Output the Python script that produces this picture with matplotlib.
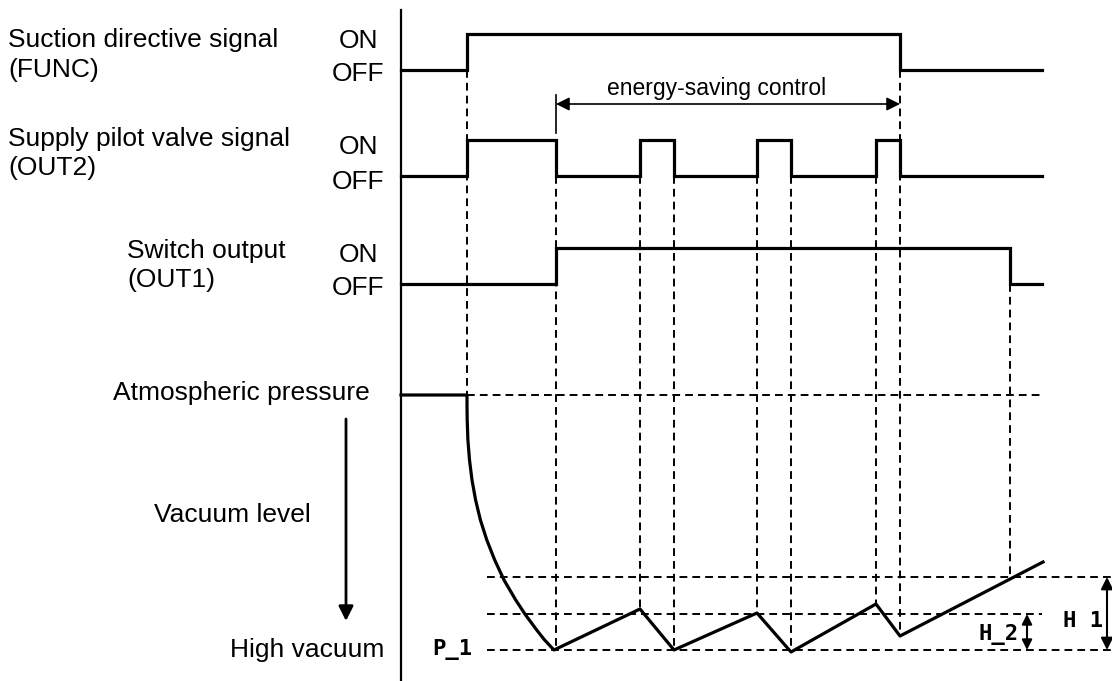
import numpy as np
import matplotlib.pyplot as plt

plt.rcParams['font.family'] = ['Liberation Sans', 'DejaVu Sans']

# time axis (arbitrary units, left edge of the diagram to right edge)
t_start, t_end = 401, 1042

# switching instants of each signal
func_edges = [467, 900]
out2_edges = [467, 556, 640, 674, 757, 791, 876, 900]
out1_edges = [556, 1010]

# vacuum trace (time, level) - level drawn downward
pressure_t = [401, 467, 467, 467.2, 467.9, 469.5, 472, 475.6, 480.4, 486.8,
              494.7, 504, 515.7, 525.6, 536.7, 544.6, 554,
              640, 674, 757, 791, 876, 900, 1043]
pressure_v = [395, 395, 405, 420, 440, 460, 480, 500, 520, 540,
              560, 580, 600, 615, 630, 640, 650,
              609, 650, 613, 652, 604, 636, 562]

atm_level = 395
p1_level = 650
h2_level = 614
h1_level = 577

# vertical guide lines: time, level where they start
guides = [(467, 70), (900, 70), (556, 176), (640, 176), (674, 176),
          (757, 176), (791, 176), (876, 176), (1010, 284)]


def step_wave(edges, off, on):
    xs, ys = [t_start], [off]
    state = off
    for e in edges:
        xs += [e, e]
        ys += [state, on if state == off else off]
        state = ys[-1]
    xs.append(t_end)
    ys.append(state)
    return xs, ys


fig = plt.figure(figsize=(11.12, 6.81), dpi=100)
ax = fig.add_axes([0, 0, 1, 1])
ax.set_xlim(0, 1112)
ax.set_ylim(681, 0)
ax.axis('off')

dash = (0, (4, 2.6))
lw_sig = 2.3
lw_dash = 1.4

# vertical axis line
ax.plot([401, 401], [10, 681], color='black', lw=1.6)

# digital signals
for edges, off, on in [(func_edges, 70, 34), (out2_edges, 176, 140), (out1_edges, 284, 248)]:
    xs, ys = step_wave(edges, off, on)
    ax.plot(xs, ys, color='black', lw=lw_sig, solid_joinstyle='miter')

# guide lines
for t, top in guides:
    bottom = np.interp(t, pressure_t[2:], pressure_v[2:])
    ax.plot([t, t], [top, bottom], color='black', lw=lw_dash, linestyle=dash)

# horizontal reference lines
ax.plot([467, 1042], [atm_level] * 2, color='black', lw=lw_dash, linestyle=dash)
ax.plot([487, 1112], [h1_level] * 2, color='black', lw=lw_dash, linestyle=dash)
ax.plot([487, 1042], [h2_level] * 2, color='black', lw=lw_dash, linestyle=dash)
ax.plot([487, 1112], [p1_level] * 2, color='black', lw=lw_dash, linestyle=dash)

# vacuum trace
ax.plot(pressure_t, pressure_v, color='black', lw=lw_sig, solid_joinstyle='round')

# energy-saving control span
ax.plot([556, 556], [95, 133], color='black', lw=1.2)
ax.annotate('', xy=(556, 104), xytext=(900, 104),
            arrowprops=dict(arrowstyle='<|-|>', color='black', lw=1.2,
                            mutation_scale=20, shrinkA=0, shrinkB=0))
ax.text(717, 95, 'energy-saving control', fontsize=16.5, ha='center', va='baseline')

# H1 / H2 arrows
ax.annotate('', xy=(1107, h1_level), xytext=(1107, p1_level),
            arrowprops=dict(arrowstyle='<|-|>', color='black', lw=1.5,
                            mutation_scale=18, shrinkA=0, shrinkB=0))
ax.annotate('', xy=(1027, h2_level), xytext=(1027, p1_level),
            arrowprops=dict(arrowstyle='<|-|>', color='black', lw=1.5,
                            mutation_scale=15, shrinkA=0, shrinkB=0))

# vacuum direction arrow
ax.annotate('', xy=(346, 621), xytext=(346, 419),
            arrowprops=dict(arrowstyle='-|>', color='black', lw=2,
                            mutation_scale=22, shrinkA=0, shrinkB=0))

# left labels
fs = 19
ax.text(8, 47, 'Suction directive signal', fontsize=fs, va='baseline')
ax.text(8, 77, '(FUNC)', fontsize=fs, va='baseline')
ax.text(8, 146, 'Supply pilot valve signal', fontsize=fs, va='baseline')
ax.text(8, 175, '(OUT2)', fontsize=fs, va='baseline')
ax.text(127, 258, 'Switch output', fontsize=fs, va='baseline')
ax.text(127, 287, '(OUT1)', fontsize=fs, va='baseline')
for on_y, off_y in [(48, 81), (154, 189), (262, 295)]:
    ax.text(358, on_y, 'ON', fontsize=fs, ha='center', va='baseline')
    ax.text(358, off_y, 'OFF', fontsize=fs, ha='center', va='baseline')

ax.text(370, 400, 'Atmospheric pressure', fontsize=fs, ha='right', va='baseline')
ax.text(154, 522, 'Vacuum level', fontsize=fs, va='baseline')
ax.text(384, 657, 'High vacuum', fontsize=fs, ha='right', va='baseline')

# level labels
mono = dict(family='DejaVu Sans Mono', fontweight='bold', fontsize=16, va='baseline')
ax.text(432, 655, 'P_1', **mono)
ax.text(978, 640, 'H_2', **mono)
ax.text(1063, 627, 'H 1', **mono)

fig.savefig('out.png', dpi=100)
